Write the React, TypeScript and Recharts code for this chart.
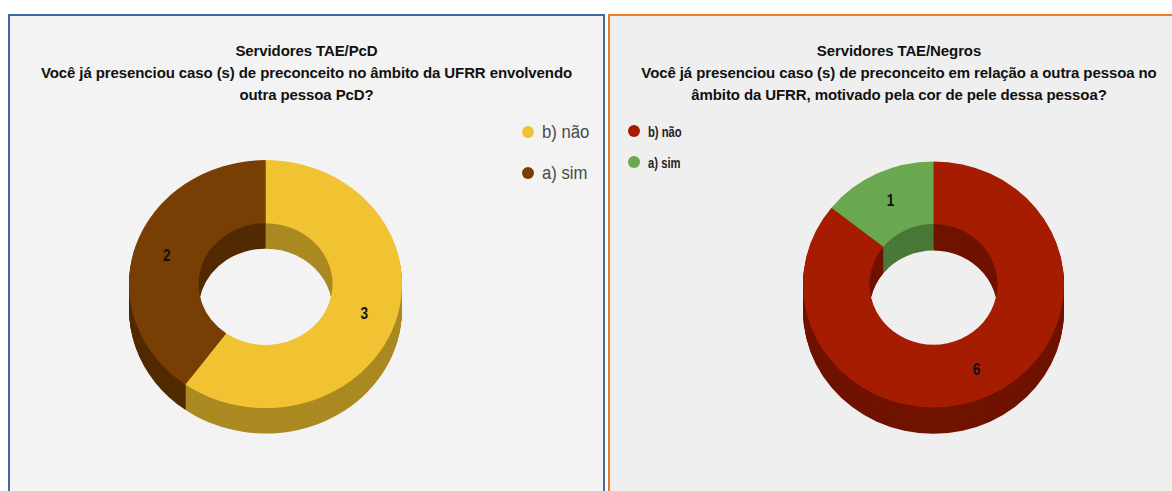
import { Cell, Pie, PieChart } from "recharts";

// Servidores TAE/PcD
const pcdLabels = ["b) não", "a) sim"];
const pcdValues = [3, 2];
const pcdColors = ["#f1c232", "#783f04"];
const pcdSideColors = ["#ab8a22", "#532b02"];

// Servidores TAE/Negros
const negrosLabels = ["b) não", "a) sim"];
const negrosValues = [6, 1];
const negrosColors = ["#a61c00", "#6aa84f"];
const negrosSideColors = ["#701300", "#4a7837"];

const FONT = '"Liberation Sans", Arial, sans-serif';
const RAD = Math.PI / 180;

interface DonutProps {
  labels: string[];
  values: number[];
  colors: string[];
  sideColors: string[];
  centerX: number;
  centerY: number;
  rx: number;
  ry: number;
  inner: number;
  depth: number;
}

function Donut3D({ labels, values, colors, sideColors, centerX, centerY, rx, ry, inner, depth }: DonutProps) {
  const rows = labels.map((name, i) => ({ name, value: values[i] }));
  const scale = ry / rx;
  const depthSvg = depth / scale;
  const width = Math.ceil(2 * rx + 20);
  const cx = width / 2;
  const cy = rx + 10;
  const height = Math.ceil(cy + rx + depthSvg + 10);
  const offsets = Array.from({ length: Math.ceil(depthSvg) }, (_, i) => Math.ceil(depthSvg) - i);

  const renderLabel = (props: any) => {
    const r = (props.innerRadius + props.outerRadius) / 2 + 2;
    const x = props.cx + r * Math.cos(-props.midAngle * RAD);
    const y = props.cy + r * Math.sin(-props.midAngle * RAD);
    return (
      <text
        transform={`translate(${x},${y}) scale(0.85,${1.05 / scale})`}
        textAnchor="middle"
        dominantBaseline="central"
        fontFamily={FONT}
        fontWeight="bold"
        fontSize={16}
        fill="#111"
      >
        {props.value}
      </text>
    );
  };

  return (
    <div
      style={{
        position: "absolute",
        left: centerX - cx,
        top: centerY - cy * scale,
        transform: `scaleY(${scale})`,
        transformOrigin: "top left",
      }}
    >
      <PieChart width={width} height={height} margin={{ top: 0, right: 0, bottom: 0, left: 0 }}>
        {/* side wall: stacked copies pushed down, darker colours */}
        {offsets.map((off) => (
          <Pie
            key={off}
            data={rows}
            dataKey="value"
            cx={cx}
            cy={cy + off}
            innerRadius={inner}
            outerRadius={rx}
            startAngle={90}
            endAngle={-270}
            stroke="none"
            isAnimationActive={false}
          >
            {rows.map((r, i) => (
              <Cell key={r.name} fill={sideColors[i]} />
            ))}
          </Pie>
        ))}
        <Pie
          data={rows}
          dataKey="value"
          cx={cx}
          cy={cy}
          innerRadius={inner}
          outerRadius={rx}
          startAngle={90}
          endAngle={-270}
          stroke="none"
          label={renderLabel}
          labelLine={false}
          isAnimationActive={false}
        >
          {rows.map((r, i) => (
            <Cell key={r.name} fill={colors[i]} />
          ))}
        </Pie>
      </PieChart>
    </div>
  );
}

function Legend({ labels, colors, left, top, gap, bold, fontSize, squeeze, color }: any) {
  return (
    <div style={{ position: "absolute", left, top, fontFamily: FONT }}>
      {labels.map((l: string, i: number) => (
        <div
          key={l}
          style={{
            position: "absolute",
            top: i * gap,
            left: 0,
            display: "flex",
            alignItems: "center",
            whiteSpace: "nowrap",
            height: 20,
            marginTop: -10,
          }}
        >
          <span
            style={{
              width: 12,
              height: 12,
              borderRadius: 6,
              background: colors[i],
              marginRight: 8,
              marginLeft: -6,
            }}
          />
          <span
            style={{
              display: "inline-block",
              fontSize,
              fontWeight: bold ? "bold" : "normal",
              color,
              transform: `scaleX(${squeeze})`,
              transformOrigin: "left center",
            }}
          >
            {l}
          </span>
        </div>
      ))}
    </div>
  );
}

const titleStyle = {
  position: "absolute" as const,
  left: 0,
  right: 0,
  top: 24,
  textAlign: "center" as const,
  fontFamily: FONT,
  fontWeight: "bold" as const,
  fontSize: 15,
  lineHeight: "22px",
  letterSpacing: "-0.1px",
  color: "#111",
};

export default function App() {
  return (
    <div style={{ position: "absolute", left: 0, top: 0, width: 1172, height: 491, overflow: "hidden", background: "#fff" }}>
      <div
        style={{
          position: "absolute",
          left: 8,
          top: 14,
          width: 593,
          height: 500,
          background: "#f3f3f3",
          borderTop: "2px solid #3f6aa6",
          borderLeft: "2px solid #3f6aa6",
          borderRight: "2px solid #3f6aa6",
        }}
      >
        <div style={titleStyle}>
          Servidores TAE/PcD
          <br />
          Você já presenciou caso (s) de preconceito no âmbito da UFRR envolvendo
          <br />
          outra pessoa PcD?
        </div>
      </div>
      <div
        style={{
          position: "absolute",
          left: 608,
          top: 14,
          width: 578,
          height: 500,
          background: "#efefef",
          borderTop: "2px solid #f07a1e",
          borderLeft: "2px solid #f07a1e",
          borderRight: "2px solid #f07a1e",
        }}
      >
        <div style={titleStyle}>
          Servidores TAE/Negros
          <br />
          Você já presenciou caso (s) de preconceito em relação a outra pessoa no
          <br />
          âmbito da UFRR, motivado pela cor de pele dessa pessoa?
        </div>
      </div>

      <Legend labels={pcdLabels} colors={pcdColors} left={528} top={132} gap={41} fontSize={19} squeeze={0.88} color="#4a4a4a" />
      <Legend labels={negrosLabels} colors={negrosColors} left={634} top={131} gap={31} bold fontSize={15} squeeze={0.75} color="#222" />

      <Donut3D
        labels={pcdLabels}
        values={pcdValues}
        colors={pcdColors}
        sideColors={pcdSideColors}
        centerX={265.5}
        centerY={284}
        rx={136.5}
        ry={124}
        inner={67}
        depth={25}
      />
      <Donut3D
        labels={negrosLabels}
        values={negrosValues}
        colors={negrosColors}
        sideColors={negrosSideColors}
        centerX={933.5}
        centerY={284}
        rx={130.5}
        ry={123}
        inner={64}
        depth={26}
      />
    </div>
  );
}
